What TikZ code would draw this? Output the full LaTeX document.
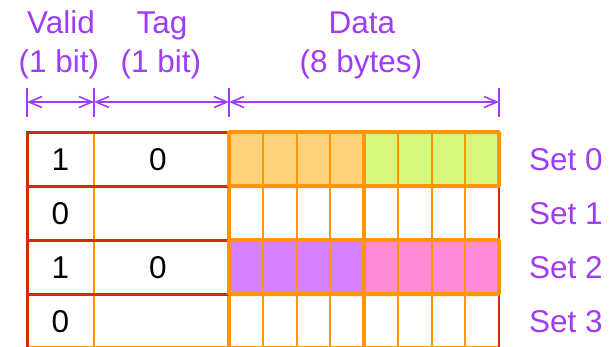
\documentclass[tikz,border=0pt]{standalone}
\usepackage{fontspec}
\setmainfont{Liberation Sans}
\usetikzlibrary{arrows.meta}
\definecolor{redline}{HTML}{D42A0C}
\definecolor{darkred}{HTML}{C8300A}
\definecolor{orangeline}{HTML}{FF9500}
\definecolor{lorange}{HTML}{FDD27A}
\definecolor{lgreen}{HTML}{D5F87A}
\definecolor{lpurple}{HTML}{D580FF}
\definecolor{lpink}{HTML}{FF8AD8}
\definecolor{labelpurple}{HTML}{9F3CF5}
\begin{document}
\begin{tikzpicture}[x=1pt,y=-1pt,
  lbl/.style={text=labelpurple,font=\fontsize{31.5}{36}\selectfont,inner sep=0pt,anchor=base},
  setlbl/.style={lbl,anchor=base west},
  val/.style={text=black,font=\fontsize{31.5}{36}\selectfont,inner sep=0pt,anchor=base},
  dimarrow/.style={draw=labelpurple,line width=1.6pt,{Straight Barb[length=13pt,width=11pt]}-{Straight Barb[length=13pt,width=11pt]}},
  dimtick/.style={draw=labelpurple,line width=1.6pt},
  redrule/.style={draw=redline,line width=3pt},
  thinorange/.style={draw=orangeline,line width=2pt},
  thickorange/.style={draw=orangeline,line width=4pt},
]
\useasboundingbox (0,0) rectangle (616,346);

% header labels
\node[lbl] (validname) at (61,33) {Valid};
\node[lbl] (validsize) at (59,72) {(1 bit)};
\node[lbl] (tagname) at (162,33) {Tag};
\node[lbl] (tagsize) at (161,72) {(1 bit)};
\node[lbl] (dataname) at (362,33) {Data};
\node[lbl] (datasize) at (361,72) {(8 bytes)};

% dimension marks
\foreach \n/\x in {a/27,b/94,c/229,d/499}{
  \coordinate (t\n top) at (\x,88);
  \coordinate (t\n bot) at (\x,117);
  \coordinate (t\n) at (\x,102);
  \draw[dimtick] (t\n top) -- (t\n bot);
}
\draw[dimarrow] (ta) -- (tb);
\draw[dimarrow] (tb) -- (tc);
\draw[dimarrow] (tc) -- (td);

% fills
\fill[lorange] (229,132) rectangle (364,186);
\fill[lgreen] (364,132) rectangle (499,186);
\fill[lpurple] (229,240) rectangle (364,294);
\fill[lpink] (364,240) rectangle (499,294);

% thin orange verticals
\foreach \x in {94,262.75,296.5,330.25,397.75,431.5,465.25}{
  \draw[thinorange] (\x,132) -- (\x,347);
}
\draw[draw=orangeline,line width=3.5pt] (364,132) -- (364,347);
\draw[draw=orangeline,line width=3.5pt] (229,132) -- (229,347);
\draw[thinorange] (27,347) -- (499,347);
\draw[thinorange] (229,186) -- (499,186);

% right edges of empty rows
\draw[draw=darkred,line width=2.5pt] (499,186) -- (499,240);
\draw[draw=darkred,line width=2.5pt] (499,294) -- (499,347);

% red rules of valid/tag part
\draw[redrule] (27,130.5) -- (27,347);
\foreach \y in {132,186,240,294}{
  \draw[redrule] (27,\y) -- (229,\y);
}

% thick orange outlines of filled rows
\draw[thickorange,rounded corners=1pt] (229,132) rectangle (499,186);
\draw[thickorange,rounded corners=1pt] (229,240) rectangle (499,294);

% cell values
\node[val] (v0) at (60.5,170) {1};
\node[val] (g0) at (158,170) {0};
\node[val] (v1) at (60.5,224) {0};
\node[val] (v2) at (60.5,278) {1};
\node[val] (g2) at (158,278) {0};
\node[val] (v3) at (60.5,332) {0};

% set labels
\node[setlbl] (s0) at (529,170) {Set 0};
\node[setlbl] (s1) at (529,224) {Set 1};
\node[setlbl] (s2) at (529,278) {Set 2};
\node[setlbl] (s3) at (529,332) {Set 3};
\end{tikzpicture}
\end{document}
